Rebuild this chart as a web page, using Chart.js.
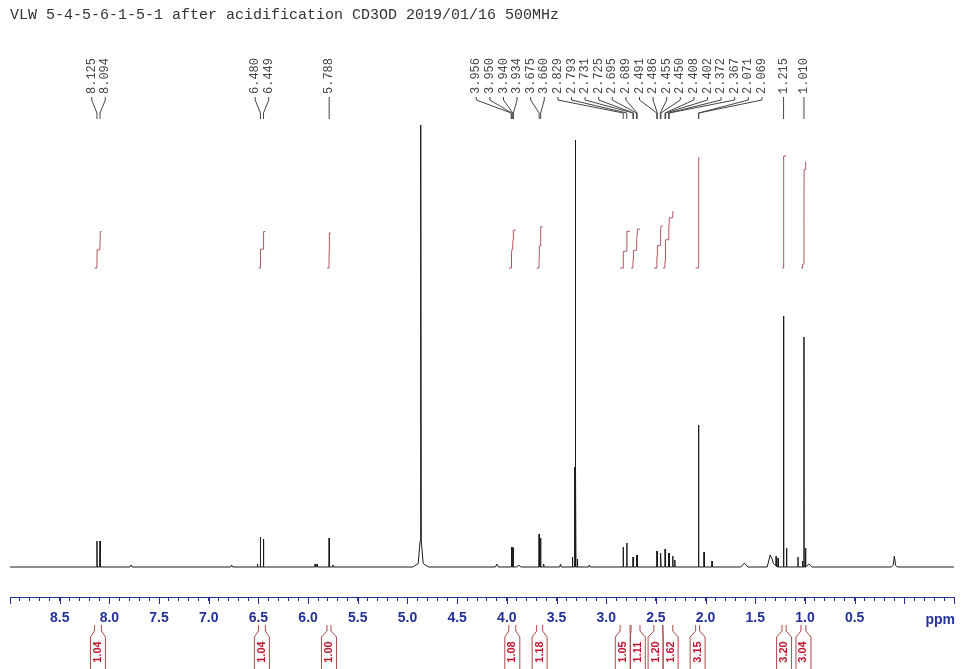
<!DOCTYPE html>
<html lang="en">
<head>
<meta charset="UTF-8">
<script src="https://cdn.jsdelivr.net/npm/chart.js"></script>
<title>1H NMR CD3OD 500MHz</title>
<style>body{margin:0;background:#fff}</style>
</head>
<body>
<canvas id="nmr" width="963" height="669"></canvas>
<script>
const titleText = 'VLW 5-4-5-6-1-5-1 after acidification CD3OD 2019/01/16 500MHz';

// peak list: shift (ppm), height (a.u.), half width at base (ppm)
const peakPpm = [7.78, 6.77, 6.51, 5.93, 5.91, 5.75,
  8.125, 8.094, 6.480, 6.449, 5.788,
  4.867, 4.867, 4.867, 4.10,
  3.956, 3.950, 3.940, 3.934, 3.88, 3.675, 3.660, 3.63, 3.46,
  3.34, 3.318, 3.312, 3.306, 3.29, 3.17,
  2.829, 2.793, 2.731, 2.725, 2.695, 2.689,
  2.491, 2.486, 2.455, 2.450, 2.408, 2.402, 2.372, 2.367, 2.33, 2.31,
  2.071, 2.069, 2.015, 1.935, 1.61, 1.35, 1.33, 1.29, 1.27,
  1.215, 1.185, 1.07, 1.025, 1.010, 0.995, 0.96, 0.10, 0.10];
const peakHeight = [2, 2, 3, 3, 3, 2,
  26, 26, 30, 28, 29,
  447, 28, 5, 3,
  19, 20, 20, 19, 2, 33, 29, 3, 3,
  10, 100, 427, 100, 8, 2,
  20, 24, 10, 10, 12, 12,
  16, 16, 14, 14, 18, 18, 14, 14, 11, 7,
  142, 128, 15, 6, 4, 9, 5, 10, 9,
  251, 19, 10, 6, 230, 19, 3, 8, 3];
const peakWidth = [0.012, 0.01, 0.004, 0.004, 0.004, 0.006,
  0.002, 0.002, 0.002, 0.002, 0.002,
  0.006, 0.025, 0.08, 0.015,
  0.002, 0.002, 0.002, 0.002, 0.02, 0.002, 0.002, 0.006, 0.008,
  0.003, 0.002, 0.002, 0.002, 0.003, 0.008,
  0.002, 0.002, 0.002, 0.002, 0.002, 0.002,
  0.002, 0.002, 0.002, 0.002, 0.002, 0.002, 0.002, 0.002, 0.003, 0.003,
  0.001, 0.001, 0.002, 0.002, 0.035, 0.03, 0.05, 0.003, 0.003,
  0.002, 0.002, 0.002, 0.003, 0.002, 0.002, 0.03, 0.012, 0.03];

// picked peaks shown at the top
const labelPpm = [8.125, 8.094, 6.480, 6.449, 5.788,
  3.956, 3.950, 3.940, 3.934, 3.675, 3.660,
  2.829, 2.793, 2.731, 2.725, 2.695, 2.689,
  2.491, 2.486, 2.455, 2.450, 2.408, 2.402, 2.372, 2.367, 2.071, 2.069,
  1.215, 1.010];

// integral regions
const intFrom = [8.15, 6.50, 5.81, 3.98, 3.70, 2.86, 2.75, 2.52, 2.43, 2.10, 1.23, 1.04];
const intTo = [8.08, 6.43, 5.77, 3.91, 3.64, 2.76, 2.66, 2.43, 2.33, 2.06, 1.19, 0.99];
const intValue = [1.04, 1.04, 1.00, 1.08, 1.18, 1.05, 1.11, 1.20, 1.62, 3.15, 3.20, 3.04];

function intensityAt(x) {
  let s = 0;
  for (let i = 0; i < peakPpm.length; i++) {
    const d = Math.abs(x - peakPpm[i]);
    if (d < peakWidth[i]) s += peakHeight[i] * (1 - d / peakWidth[i]);
  }
  return s;
}

const breaks = [9.0, -0.5];
peakPpm.forEach((p, i) => breaks.push(p + peakWidth[i], p, p - peakWidth[i]));
breaks.sort((a, b) => b - a);
const spectrum = breaks.map(x => ({x: x, y: intensityAt(x)}));

function integralCurve(from, to, value) {
  const xs = [from].concat(breaks.filter(x => x < from && x > to), [to]);
  const pts = [{x: from, y: 0}];
  let acc = 0;
  for (let i = 1; i < xs.length; i++) {
    acc += (intensityAt(xs[i - 1]) + intensityAt(xs[i])) / 2 * (xs[i - 1] - xs[i]);
    pts.push({x: xs[i], y: acc});
  }
  return pts.map(p => ({x: p.x, y: p.y / acc * value}));
}

// push labels apart so they keep a minimum gap
function spread(xs, gap) {
  let groups = xs.map((x, i) => ({idx: [i], c: x}));
  let merged = true;
  while (merged) {
    merged = false;
    for (let i = 0; i < groups.length - 1; i++) {
      const a = groups[i], b = groups[i + 1];
      const aR = a.c + (a.idx.length - 1) / 2 * gap;
      const bL = b.c - (b.idx.length - 1) / 2 * gap;
      if (bL - aR < gap) {
        const idx = a.idx.concat(b.idx);
        const c = idx.reduce((s, k) => s + xs[k], 0) / idx.length;
        groups.splice(i, 2, {idx: idx, c: c});
        merged = true;
        break;
      }
    }
  }
  const out = [];
  groups.forEach(g => g.idx.forEach((k, j) => { out[k] = g.c + (j - (g.idx.length - 1) / 2) * gap; }));
  return out;
}

const axisBlue = '#22309a';

const annotate = {
  id: 'annotate',
  afterDraw(chart) {
    const ctx = chart.ctx, xs = chart.scales.x, area = chart.chartArea;
    ctx.save();

    ctx.fillStyle = '#333';
    ctx.font = '15px "Liberation Mono"';
    ctx.textBaseline = 'middle';
    ctx.textAlign = 'left';
    ctx.fillText(titleText, 10, 15);

    // long ticks every 0.5 ppm
    ctx.strokeStyle = axisBlue;
    ctx.lineWidth = 1;
    for (let t = -5; t <= 90; t += 5) {
      const x = Math.round(xs.getPixelForValue(t / 10)) + 0.5;
      ctx.beginPath();
      ctx.moveTo(x, area.bottom);
      ctx.lineTo(x, area.bottom + 7);
      ctx.stroke();
    }
    ctx.fillStyle = axisBlue;
    ctx.font = 'bold 14px "Liberation Sans"';
    ctx.textAlign = 'right';
    ctx.fillText('ppm', area.right + 1, area.bottom + 23);

    // peak labels
    const px = labelPpm.map(v => xs.getPixelForValue(v));
    const lx = spread(px, 13.6);
    ctx.strokeStyle = '#444';
    ctx.fillStyle = '#444';
    ctx.font = '12px "Liberation Mono"';
    ctx.textAlign = 'left';
    ctx.textBaseline = 'middle';
    labelPpm.forEach((v, i) => {
      ctx.save();
      ctx.translate(lx[i], 94);
      ctx.rotate(-Math.PI / 2);
      ctx.fillText(v.toFixed(3), 0, 0);
      ctx.restore();
      ctx.beginPath();
      ctx.moveTo(lx[i], 97);
      ctx.lineTo(lx[i], 100);
      ctx.lineTo(px[i], 113);
      ctx.lineTo(px[i], 119);
      ctx.stroke();
    });

    // integral values under the axis
    const cx = intFrom.map((f, i) => (xs.getPixelForValue(f) + xs.getPixelForValue(intTo[i])) / 2);
    const bx = spread(cx, 15);
    ctx.strokeStyle = '#b04848';
    intValue.forEach((v, i) => {
      const nL = xs.getPixelForValue(intFrom[i]), nR = xs.getPixelForValue(intTo[i]);
      const bL = bx[i] - 7.5, bR = bx[i] + 7.5;
      ctx.beginPath();
      ctx.moveTo(nL, 625); ctx.lineTo(nL, 631); ctx.lineTo(bL, 637); ctx.lineTo(bL, 669);
      ctx.moveTo(nR, 625); ctx.lineTo(nR, 631); ctx.lineTo(bR, 637); ctx.lineTo(bR, 669);
      ctx.stroke();
      ctx.save();
      ctx.translate(bx[i], 652);
      ctx.rotate(-Math.PI / 2);
      ctx.fillStyle = '#c0142c';
      ctx.font = 'bold 11px "Liberation Sans"';
      ctx.textAlign = 'center';
      ctx.fillText(v.toFixed(2), 0, 0);
      ctx.restore();
    });
    ctx.restore();
  }
};

const datasets = [{
  data: spectrum,
  borderColor: '#1a1a1a',
  borderWidth: 1,
  pointRadius: 0,
  tension: 0,
  yAxisID: 'y'
}];
intValue.forEach((v, i) => datasets.push({
  data: integralCurve(intFrom[i], intTo[i], v),
  borderColor: '#b0585e',
  borderWidth: 1,
  pointRadius: 0,
  tension: 0,
  yAxisID: 'yi'
}));

new Chart(document.getElementById('nmr'), {
  type: 'line',
  data: {datasets: datasets},
  options: {
    responsive: false,
    animation: false,
    layout: {padding: {top: 125, left: 10, right: 3, bottom: 0}},
    plugins: {legend: {display: false}, tooltip: {enabled: false}},
    scales: {
      x: {
        type: 'linear',
        reverse: true,
        min: -0.5,
        max: 9.0,
        afterFit(s) { s.height = 72; },
        ticks: {
          stepSize: 0.1,
          maxTicksLimit: 1000,
          autoSkip: false,
          maxRotation: 0,
          minRotation: 0,
          padding: 9,
          color: axisBlue,
          font: {family: '"Liberation Sans"', size: 14, weight: 'bold'},
          callback(value) {
            const t = Math.round(value * 10);
            return (t % 5 === 0 && t >= 5 && t <= 85) ? (t / 10).toFixed(1) : '';
          }
        },
        grid: {drawOnChartArea: false, drawTicks: true, tickLength: 4, color: axisBlue},
        border: {display: true, color: axisBlue, width: 1}
      },
      y: {display: false, min: -30, max: 442},
      yi: {display: false, min: -9.4, max: 4.086}
    }
  },
  plugins: [annotate]
});
</script>
</body>
</html>
